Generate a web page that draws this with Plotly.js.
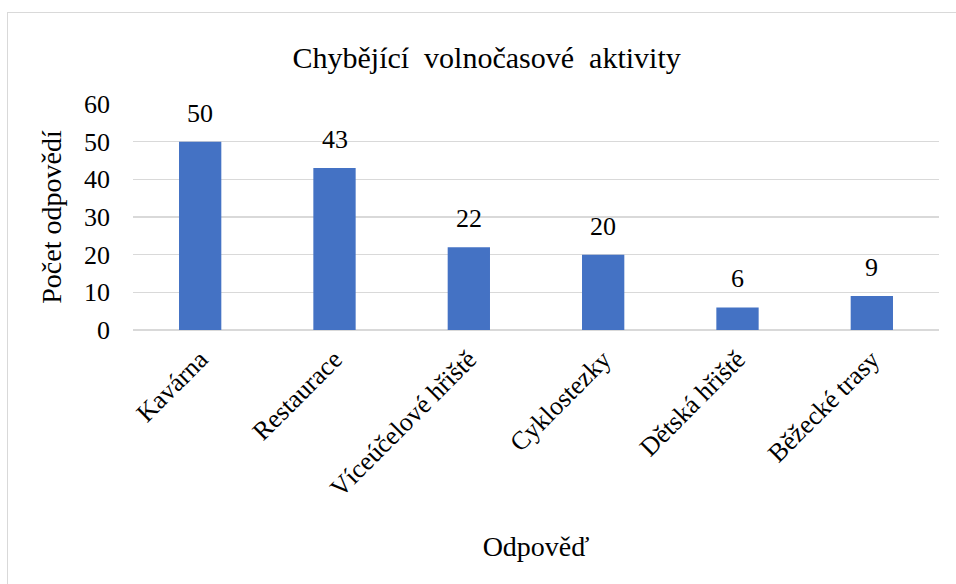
<!DOCTYPE html>
<html>
<head>
<meta charset="utf-8">
<script src="https://cdn.plot.ly/plotly-3.0.1.min.js"></script>
<style>
  html, body { margin: 0; padding: 0; width: 956px; height: 584px; overflow: hidden; background: #fff; }
  #frame { position: absolute; left: 7px; top: 12px; width: 1000px; height: 1000px; border: 1.5px solid #d9d9d9; box-sizing: border-box; pointer-events: none; z-index: 5; }
  #chart { position: absolute; left: 0; top: 0; width: 956px; height: 584px; }
</style>
</head>
<body>
<div id="chart"></div>
<div id="frame"></div>
<script>
const categories = ["Kavárna", "Restaurace", "Víceúčelové hřiště", "Cyklostezky", "Dětská hřiště", "Běžecké trasy"];
const values = [50, 43, 22, 20, 6, 9];
const yTicks = [0, 10, 20, 30, 40, 50, 60];
const chartTitle = "Chybějící&nbsp; volnočasové&nbsp; aktivity";
const xTitle = "Odpověď";
const yTitle = "Počet odpovědí";

const serif = "serif";

const trace = {
  type: "bar",
  x: categories,
  y: values,
  marker: { color: "#4472C4" },
  hoverinfo: "x+y"
};

const valueLabels = categories.map((c, i) => ({
  x: c,
  y: values[i],
  xref: "x",
  yref: "y",
  text: String(values[i]),
  showarrow: false,
  yanchor: "bottom",
  yshift: 12,
  font: { family: serif, size: 26, color: "#000" }
}));

const layout = {
  width: 956,
  height: 584,
  paper_bgcolor: "#fff",
  plot_bgcolor: "#fff",
  margin: { l: 133, r: 17, t: 104, b: 254 },
  showlegend: false,
  bargap: 0.685,
  annotations: valueLabels,
  title: {
    text: chartTitle,
    font: { family: serif, size: 30, color: "#000" },
    xref: "container", x: 0.509, xanchor: "center",
    yref: "container", y: 0.902, yanchor: "middle"
  },
  xaxis: {
    type: "category",
    tickangle: -45,
    tickfont: { family: serif, size: 26, color: "#000" },
    showgrid: false,
    showline: false,
    ticks: "",
    ticklabelstandoff: 8,
    automargin: false,
    title: { text: xTitle, font: { family: serif, size: 28, color: "#000" }, standoff: 34 }
  },
  yaxis: {
    range: [0, 60],
    tickvals: yTicks,
    ticktext: yTicks.map(String),
    tickfont: { family: serif, size: 26, color: "#000" },
    showgrid: true,
    gridcolor: "#d9d9d9",
    gridwidth: 1.5,
    zeroline: true,
    zerolinecolor: "#d9d9d9",
    zerolinewidth: 1.5,
    showline: false,
    ticks: "",
    ticklabelstandoff: 22,
    automargin: false,
    title: { text: yTitle, font: { family: serif, size: 28, color: "#000" }, standoff: 14 }
  }
};

Plotly.newPlot("chart", [trace], layout, { displayModeBar: false, staticPlot: true });
</script>
</body>
</html>
